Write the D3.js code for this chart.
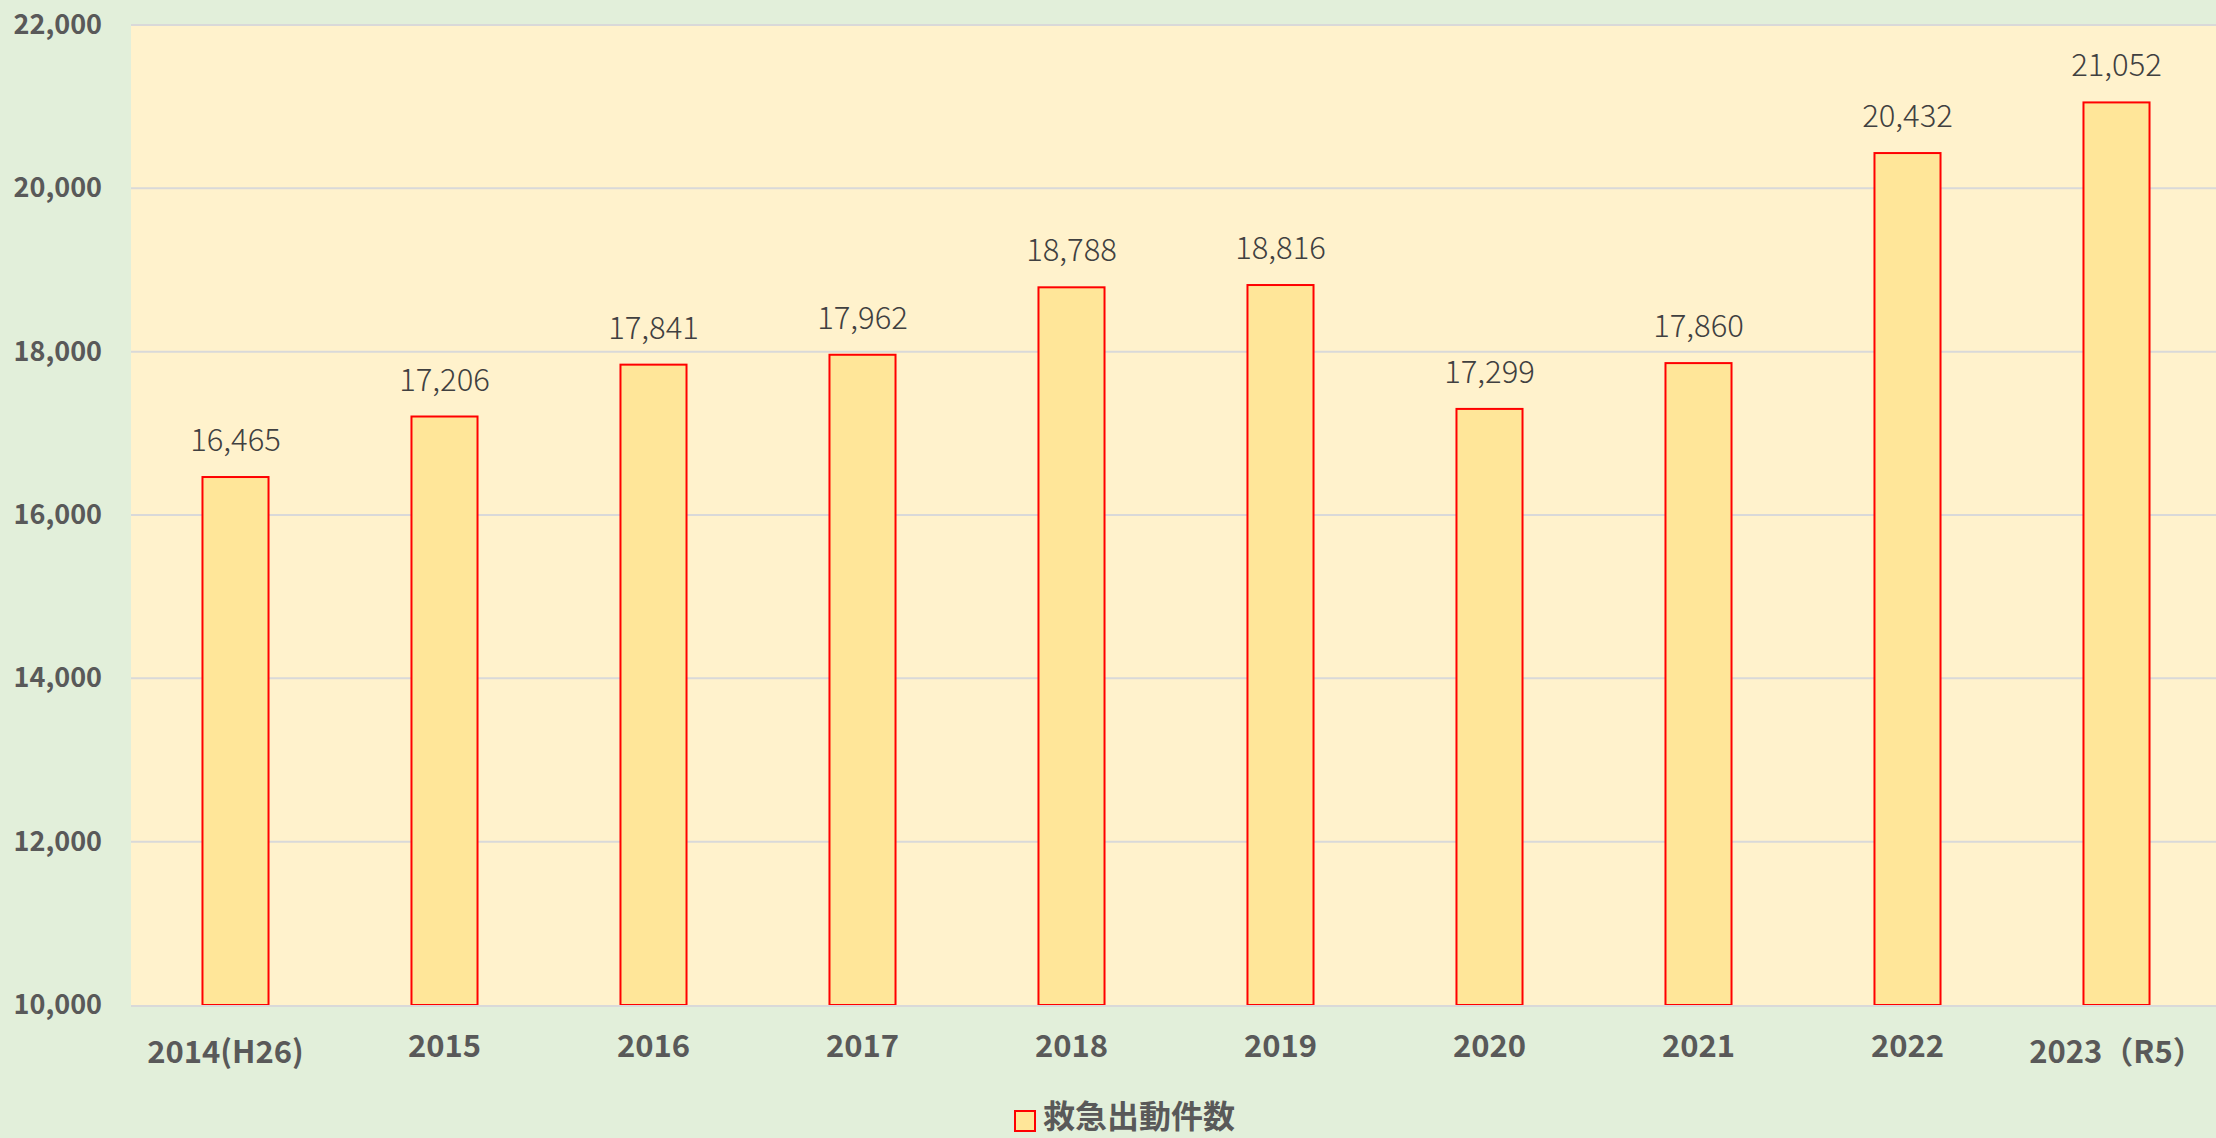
<!DOCTYPE html>
<html>
<head>
<meta charset="utf-8">
<script src="https://cdn.jsdelivr.net/npm/d3@7"></script>
<style>
html,body{margin:0;padding:0;background:#E2EFDA;overflow:hidden;}
svg{display:block;}
</style>
</head>
<body>
<svg id="chart" width="2216" height="1138"></svg>
<script>
const categories = ["2014(H26)", "2015", "2016", "2017", "2018", "2019", "2020", "2021", "2022", "2023（R5）"];
const values = [16465, 17206, 17841, 17962, 18788, 18816, 17299, 17860, 20432, 21052];
const yTicks = [10000, 12000, 14000, 16000, 18000, 20000, 22000];
const seriesName = "救急出動件数";

const W = 2216, H = 1138;
const margin = {left: 131, top: 25};
const plotW = 2090, plotH = 980;
const font = "'Noto Sans CJK JP', 'Noto Sans', sans-serif";

const svg = d3.select("#chart");
svg.append("rect").attr("width", W).attr("height", H).attr("fill", "#E2EFDA");

const x = d3.scaleBand().domain(categories).range([margin.left, margin.left + plotW]).paddingInner(0.684).paddingOuter(0.342);
const y = d3.scaleLinear().domain([10000, 22000]).range([margin.top + plotH, margin.top]);

svg.append("rect").attr("x", margin.left).attr("y", margin.top)
  .attr("width", plotW).attr("height", plotH).attr("fill", "#FFF2CC");

// gridlines
svg.append("g").selectAll("line").data(yTicks.slice(1)).join("line")
  .attr("x1", margin.left).attr("x2", margin.left + plotW)
  .attr("y1", d => y(d)).attr("y2", d => y(d))
  .attr("stroke", "#D9D9D9").attr("stroke-width", 2);

// y axis labels
const yAxis = d3.axisLeft(y).tickValues(yTicks).tickSize(0).tickPadding(29).tickFormat(d3.format(","));
const ya = svg.append("g").attr("transform", `translate(${margin.left},0)`).call(yAxis);
ya.select(".domain").remove();
ya.selectAll("text").attr("font-family", font).attr("font-size", 27).attr("font-weight", "bold")
  .attr("fill", "#595959");

// bars
svg.append("g").selectAll("rect").data(values).join("rect")
  .attr("x", (d, i) => x(categories[i]))
  .attr("y", d => y(d))
  .attr("width", x.bandwidth())
  .attr("height", d => y(10000) - y(d))
  .attr("fill", "#FFE699").attr("stroke", "#FF0000").attr("stroke-width", 2);

// baseline
svg.append("line").attr("x1", margin.left).attr("x2", margin.left + plotW)
  .attr("y1", y(10000) + 1).attr("y2", y(10000) + 1)
  .attr("stroke", "#D9D9D9").attr("stroke-width", 2);

// data labels
svg.append("g").selectAll("text").data(values).join("text")
  .attr("x", (d, i) => x(categories[i]) + x.bandwidth() / 2)
  .attr("y", d => y(d) - 26)
  .attr("text-anchor", "middle")
  .attr("font-family", font).attr("font-size", 31).attr("font-weight", 300)
  .attr("fill", "#404040")
  .text(d => d3.format(",")(d));

// x axis labels
const xAxis = d3.axisBottom(x).tickSize(0).tickPadding(0);
const xa = svg.append("g").attr("transform", `translate(0,${margin.top + plotH})`).call(xAxis);
xa.select(".domain").remove();
xa.selectAll("text")
  .attr("font-family", font).attr("font-size", 31).attr("font-weight", "bold").attr("fill", "#595959")
  .attr("dy", null)
  .attr("y", d => /[(（]/.test(d) ? 58 : 52)
  .attr("dx", (d, i) => i === 0 ? -10 : 0);

// legend
const lg = svg.append("g");
lg.append("rect").attr("x", 1015).attr("y", 1111).attr("width", 20).attr("height", 20)
  .attr("fill", "#FFE699").attr("stroke", "#FF0000").attr("stroke-width", 2);
lg.append("text").attr("x", 1043).attr("y", 1128)
  .attr("font-family", font).attr("font-size", 32).attr("font-weight", "bold").attr("fill", "#595959")
  .text(seriesName);
</script>
</body>
</html>
